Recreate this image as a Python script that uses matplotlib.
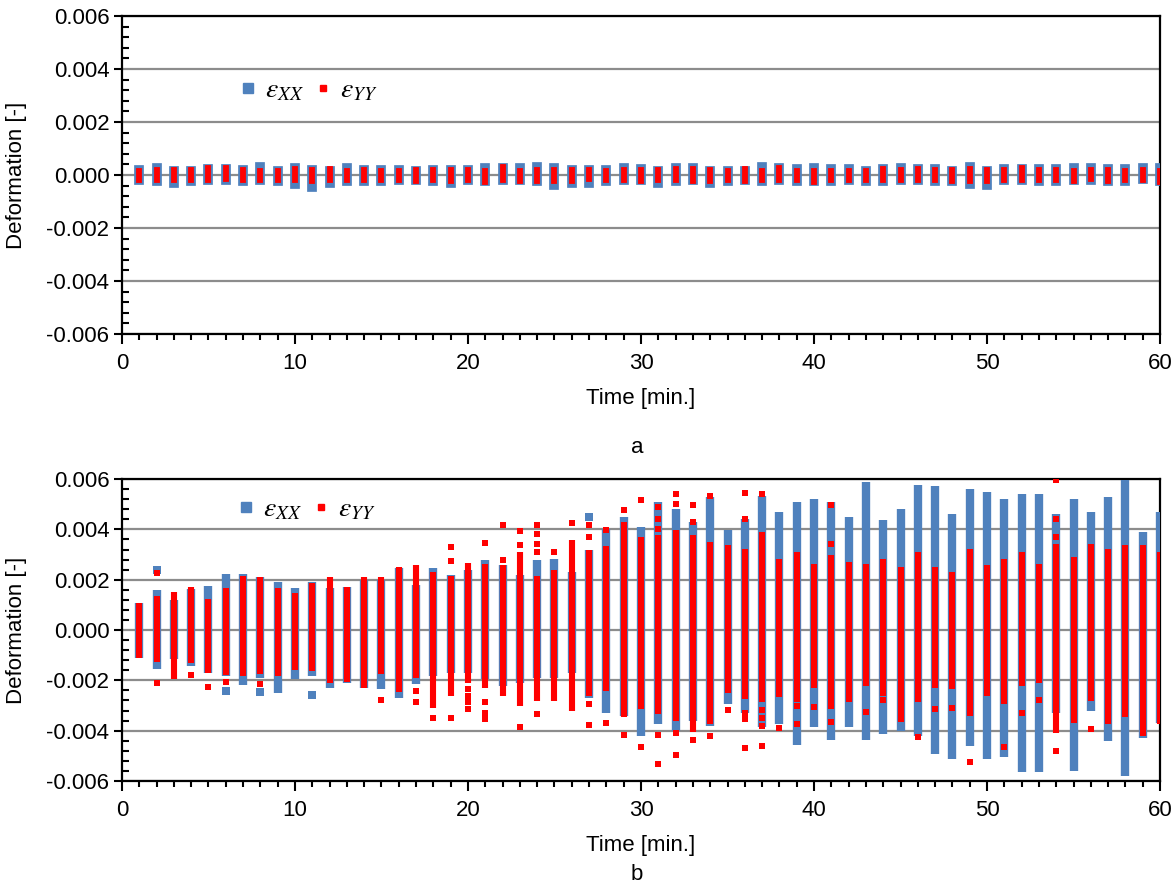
import numpy as np
import matplotlib.pyplot as plt
from matplotlib.lines import Line2D

plt.rcParams['font.family'] = ['Liberation Sans', 'DejaVu Sans']
plt.rcParams['mathtext.fontset'] = 'stix'

minutes = list(range(1, 61))

# panel a: min / max of each cloud (x 1e-4)
top_xx_hi = [1.9, 2.5, 1.5, 1.5, 2.1, 2.1, 1.9, 2.9, 1.5, 2.5,
             1.9, 1.6, 2.5, 1.9, 1.9, 1.9, 1.5, 1.9, 1.9, 1.9,
             2.5, 2.5, 2.5, 2.9, 2.5, 1.9, 1.9, 1.9, 2.5, 2.3,
             1.6, 2.5, 2.5, 1.5, 1.5, 1.6, 2.9, 2.5, 2.1, 2.5,
             2.1, 2.1, 1.5, 2.1, 2.5, 2.1, 2.1, 1.3, 2.9, 1.6,
             2.1, 2.1, 2.1, 2.1, 2.5, 2.5, 2.1, 2.1, 2.5, 2.5]
top_xx_lo = [-1.9, -2.25, -2.9, -2.25, -1.9, -1.9, -2.25, -1.9, -2.25, -3.4,
             -4.4, -2.9, -2.25, -2.25, -2.25, -1.9, -1.9, -2.25, -2.9, -1.9,
             -2.25, -1.9, -1.9, -2.25, -3.75, -2.9, -2.9, -2.25, -1.9, -1.9,
             -2.9, -2.25, -1.9, -2.9, -2.25, -1.9, -2.25, -1.9, -2.25, -2.25,
             -2.25, -1.9, -2.25, -2.25, -1.9, -1.9, -2.25, -2.25, -3.4, -3.75,
             -1.9, -1.9, -2.25, -2.25, -1.9, -1.9, -2.25, -2.25, -1.5, -2.25]
top_yy_hi = [1.4, 2.0, 2.0, 2.0, 2.6, 2.6, 2.0, 1.4, 1.4, 2.4,
             2.0, 2.4, 1.4, 2.0, 1.4, 1.4, 2.0, 2.0, 2.0, 2.0,
             1.4, 3.0, 1.4, 2.0, 2.0, 2.0, 2.0, 1.4, 2.0, 2.0,
             2.0, 2.4, 2.4, 2.0, 1.4, 2.4, 1.4, 2.6, 1.4, 1.4,
             1.4, 1.4, 1.4, 2.4, 2.0, 2.4, 2.0, 1.75, 2.4, 2.0,
             2.0, 2.6, 1.75, 2.0, 1.4, 2.0, 2.0, 1.4, 1.75, 1.4]
top_yy_lo = [-2.0, -2.0, -2.0, -2.0, -2.0, -1.4, -2.0, -2.0, -2.0, -2.0,
             -2.25, -2.0, -2.0, -2.0, -2.0, -2.0, -2.25, -2.0, -2.25, -2.0,
             -2.6, -2.0, -2.25, -2.25, -2.25, -2.25, -1.4, -2.0, -1.75, -2.25,
             -2.0, -2.0, -2.25, -2.25, -2.0, -2.25, -2.0, -2.0, -1.75, -2.6,
             -1.75, -1.75, -2.0, -2.0, -1.75, -2.0, -2.0, -2.25, -2.25, -2.25,
             -1.75, -2.0, -1.75, -2.0, -2.25, -1.4, -2.25, -2.0, -1.75, -2.6]

# panel b: dense band of each cloud (x 1e-3)
bot_xx_hi = [1.09, 1.6, 1.2, 1.62, 1.75, 2.22, 2.22, 2.12, 1.92, 1.66,
             1.92, 1.66, 1.72, 1.99, 1.99, 2.45, 1.79, 2.45, 2.18, 2.38,
             2.78, 2.58, 2.18, 2.78, 2.84, 2.32, 3.2, 4.03, 4.49, 4.09,
             5.08, 4.82, 4.29, 5.28, 3.99, 4.42, 5.34, 4.68, 5.08, 5.21,
             5.08, 4.49, 5.87, 4.36, 4.82, 5.78, 5.74, 4.62, 5.61, 5.47,
             5.21, 5.41, 5.41, 4.62, 5.21, 4.68, 5.28, 5.96, 3.9, 4.68]
bot_xx_lo = [-1.1, -1.54, -1.17, -1.43, -1.72, -1.83, -2.2, -1.9, -2.49, -1.96,
             -1.83, -2.29, -2.09, -2.29, -2.33, -2.72, -2.16, -1.83, -1.7, -1.72,
             -1.96, -2.22, -2.09, -1.9, -1.9, -1.7, -2.72, -3.28, -3.41, -4.2,
             -3.74, -4.0, -3.62, -3.8, -2.95, -3.28, -3.87, -3.74, -4.57, -3.87,
             -4.39, -3.87, -4.39, -4.13, -4.0, -4.22, -4.92, -5.12, -4.59, -5.12,
             -5.05, -5.64, -5.64, -3.28, -5.6, -3.21, -4.42, -5.8, -4.29, -3.68]
bot_yy_hi = [1.09, 1.37, 1.5, 1.72, 1.22, 1.66, 2.14, 2.09, 1.66, 1.46,
             1.86, 2.09, 1.72, 2.09, 2.12, 2.51, 2.58, 2.32, 2.14, 2.67,
             2.64, 2.58, 3.1, 2.14, 2.38, 3.57, 3.17, 3.33, 4.29, 3.7,
             3.76, 3.96, 3.76, 3.5, 3.37, 3.24, 3.9, 2.84, 3.1, 2.64,
             2.97, 2.71, 2.64, 2.84, 2.51, 3.1, 2.51, 2.32, 3.24, 2.58,
             2.84, 3.1, 2.64, 3.43, 2.91, 3.43, 3.24, 3.37, 3.37, 3.1]
bot_yy_lo = [-1.1, -1.26, -1.96, -1.3, -1.72, -1.8, -1.83, -1.76, -1.83, -1.57,
             -1.63, -2.09, -2.07, -2.29, -1.76, -2.46, -1.9, -3.08, -2.62, -2.09,
             -2.29, -2.62, -3.01, -2.82, -2.82, -3.21, -2.62, -2.42, -3.47, -3.14,
             -3.34, -3.61, -4.07, -3.74, -2.49, -2.75, -2.88, -2.68, -2.88, -2.29,
             -3.14, -2.88, -2.22, -2.62, -3.67, -2.88, -2.29, -2.36, -3.41, -2.62,
             -2.95, -2.22, -2.09, -4.09, -3.7, -2.82, -3.74, -3.47, -4.2, -3.74]

# scattered single points outside the bands (x 1e-3)
xx_out_t = [2, 6, 8, 11, 27]
xx_out_v = [2.4, -2.42, -2.46, -2.59, 4.49]
yy_out_t = [2, 2, 4, 5, 6, 8, 15, 17, 17, 18, 19, 19, 19, 20, 20, 20, 20,
            21, 21, 21, 21, 22, 22, 23, 23, 23, 24, 24, 24, 24, 24, 25, 26,
            27, 27, 27, 27, 28, 28, 29, 29, 30, 30, 31, 31, 31, 31, 31,
            32, 32, 32, 32, 33, 33, 33, 34, 34, 35, 36, 36, 36, 36, 36,
            37, 37, 37, 37, 37, 38, 39, 39, 40, 41, 41, 41, 43, 44, 46,
            47, 48, 49, 51, 52, 53, 54, 54, 54, 54, 56]
yy_out_v = [2.25, -2.1, -1.8, -2.28, -2.07, -2.16, -2.78, -2.42, -2.88, -3.49,
            3.3, 2.75, -3.49, -2.36, -2.62, -2.88, -3.14,
            3.46, -2.88, -3.28, -3.54, 4.18, 2.8, 3.92, 3.37, -3.86,
            4.18, 3.8, 3.4, 3.1, -3.34, 3.1, 4.26,
            4.16, 3.7, -2.93, -3.78, 3.96, -3.7, 4.78, -4.16, 5.17, -4.63,
            4.88, 4.4, 4.0, -4.16, -5.32, 5.41, 5.0, -4.1, -4.96,
            4.95, 4.3, -4.36, 5.34, -4.2, -3.17, 5.43, 4.42, -3.3, -3.55, -4.7,
            5.41, -3.17, -3.5, -3.8, -4.59, -3.91, -3.0, -3.74, -3.04,
            4.95, 3.41, -3.67, -3.26, -2.78, -4.26, -3.12, -3.1, -5.25,
            -4.66, -3.3, -2.78, 5.96, 4.42, 3.7, -4.79, -3.95]

blue = '#4F81BD'
red = '#FF0000'

fig = plt.figure(figsize=(11.74, 8.88), dpi=100)
ax1 = fig.add_axes([0.1039, 0.624, 0.8842, 0.358])
ax2 = fig.add_axes([0.1039, 0.1205, 0.8842, 0.340])


def style(ax):
    ax.set_xlim(0, 60)
    ax.set_ylim(-0.006, 0.006)
    ax.set_xticks(range(0, 61, 10))
    ax.set_xticks(range(0, 61, 1), minor=True)
    ax.set_yticks(np.arange(-0.006, 0.0061, 0.002))
    ax.set_yticks(np.arange(-0.006, 0.0061, 0.0004), minor=True)
    ax.set_yticklabels(['-0.006', '-0.004', '-0.002', '0.000', '0.002', '0.004', '0.006'])
    ax.yaxis.grid(True, which='major', color='#8c8c8c', linewidth=1.6)
    ax.set_axisbelow(True)
    for s in ax.spines.values():
        s.set_linewidth(1.6)
    ax.tick_params(axis='y', which='major', direction='out', length=6, width=1.5,
                   labelsize=16, pad=3)
    ax.tick_params(axis='y', which='minor', direction='in', length=5, width=1.5)
    ax.tick_params(axis='x', which='major', direction='out', length=7, width=1.5,
                   labelsize=16, pad=7)
    ax.tick_params(axis='x', which='minor', direction='out', length=4, width=1.5)
    ax.set_xlabel('Time [min.]', fontsize=16, labelpad=10)
    ax.set_ylabel('Deformation [-]', fontsize=16, labelpad=14)


# panel a
ax1.vlines(minutes, np.array(top_xx_lo) * 1e-4, np.array(top_xx_hi) * 1e-4,
           color=blue, linewidth=7, capstyle='projecting', zorder=3)
ax1.vlines(minutes, np.array(top_yy_lo) * 1e-4, np.array(top_yy_hi) * 1e-4,
           color=red, linewidth=4.2, capstyle='projecting', zorder=4)
style(ax1)

# panel b
ax2.vlines(minutes, np.array(bot_xx_lo) * 1e-3, np.array(bot_xx_hi) * 1e-3,
           color=blue, linewidth=6, zorder=3)
ax2.plot(xx_out_t, np.array(xx_out_v) * 1e-3, 's', color=blue, markersize=6,
         markeredgewidth=0, zorder=3)
ax2.vlines(minutes, np.array(bot_yy_lo) * 1e-3, np.array(bot_yy_hi) * 1e-3,
           color=red, linewidth=4.4, zorder=4)
ax2.plot(yy_out_t, np.array(yy_out_v) * 1e-3, 's', color=red, markersize=4,
         markeredgewidth=0, zorder=4)
style(ax2)

handles = [Line2D([], [], marker='s', linestyle='none', color=blue, markersize=7),
           Line2D([], [], marker='s', linestyle='none', color=red, markersize=4)]
labels = [r'$\varepsilon_{XX}$', r'$\varepsilon_{YY}$']
for ax, anchor in [(ax1, (0.095, 0.765)), (ax2, (0.093, 0.90))]:
    ax.legend(handles, labels, loc='center left', bbox_to_anchor=anchor, ncol=2,
              frameon=False, fontsize=20, handletextpad=0.1, columnspacing=0.2,
              handlelength=1.0, borderpad=0)

fig.text(0.5425, 0.496, 'a', ha='center', va='center', fontsize=16)
fig.text(0.5425, 0.015, 'b', ha='center', va='center', fontsize=16)

fig.savefig('out.png', dpi=100)
